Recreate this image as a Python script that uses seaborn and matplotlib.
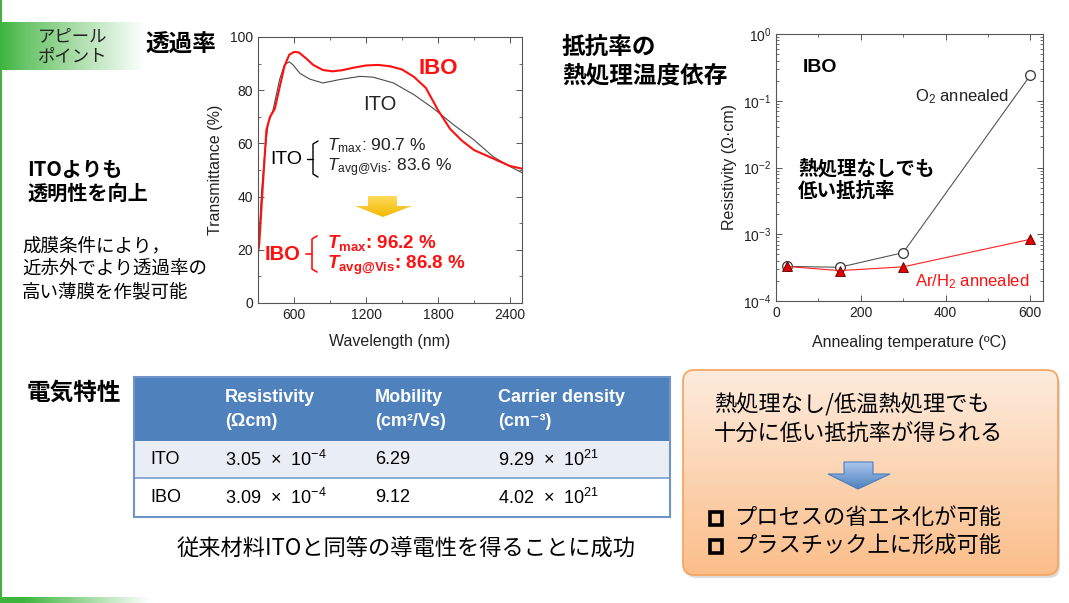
import numpy as np
import matplotlib
matplotlib.use("Agg")
import matplotlib.pyplot as plt
import seaborn as sns
from matplotlib.patches import FancyBboxPatch, Rectangle, Polygon
from matplotlib.ticker import MultipleLocator, LogLocator, NullFormatter
from matplotlib.colors import to_rgb

# ---------------------------------------------
# DATA
# ---------------------------------------------
# transmittance spectra: wavelength (nm) / transmittance (%)
wl_ibo = [300, 310, 340, 370, 400, 440, 480, 520, 560, 600, 640, 700, 760, 840,
          920, 1000, 1100, 1200, 1300, 1400, 1500, 1600, 1700, 1800, 1900, 2000,
          2100, 2200, 2300, 2400, 2500]
t_ibo = [19, 22, 44, 65, 70, 73, 81, 89, 93.3, 94.4, 94.2, 92, 89.5, 87.6,
         87.1, 87.5, 88.5, 89.3, 89.5, 89, 87.8, 85, 80.8, 72.5, 65.5, 61,
         57.5, 55.5, 53.5, 51.5, 50.5]
wl_ito = [300, 310, 330, 356, 384, 425, 480, 520, 560, 590, 650, 730, 840, 980,
          1150, 1260, 1430, 1600, 1760, 1930, 2100, 2260, 2400, 2500]
t_ito = [19, 25, 42, 56, 67.5, 72.5, 84, 89.5, 90.7, 89.6, 86.3, 84.2, 82.7, 84,
         85.2, 84.9, 82.7, 78.3, 73.2, 67, 61.3, 55, 51.3, 49]

# resistivity vs annealing temperature (IBO)
anneal_temp = [25, 150, 300, 600]
rho_o2 = [3.3e-4, 3.2e-4, 5.3e-4, 0.24]
rho_arh2 = [3.3e-4, 2.85e-4, 3.25e-4, 8.4e-4]

# electrical properties table
table_rows = ["ITO", "IBO"]
table_head1 = ["Resistivity", "Mobility", "Carrier density"]
table_head2 = ["(Ωcm)", "(cm²/Vs)", "(cm⁻³)"]
rho_mant = ["3.05", "3.09"]
rho_exp = [-4, -4]
mobility = ["6.29", "9.12"]
carrier_mant = ["9.29", "4.02"]
carrier_exp = [21, 21]

# ---------------------------------------------
# STYLE
# ---------------------------------------------
sns.set_theme(style="ticks")
plt.rcParams["font.family"] = ["Liberation Sans", "DejaVu Sans", "Noto Sans CJK JP"]
plt.rcParams["mathtext.fontset"] = "custom"
plt.rcParams["mathtext.rm"] = "Liberation Sans"
plt.rcParams["mathtext.it"] = "Liberation Sans:italic"
plt.rcParams["mathtext.bf"] = "Liberation Sans:bold"
plt.rcParams["mathtext.bfit"] = "Liberation Sans:italic:bold"
JP = ["Noto Sans CJK JP", "DejaVu Sans"]
INK = "#222222"
GREEN = "#3DB53D"

fig = plt.figure(figsize=(10.69, 6.03), dpi=100)
W, H = 1069, 603


def px_axes(x0, y0, x1, y1):
    return fig.add_axes([x0 / W, 1 - y1 / H, (x1 - x0) / W, (y1 - y0) / H])


def style_axes(ax):
    for s in ax.spines.values():
        s.set_color("#555555")
        s.set_linewidth(0.8)
    ax.tick_params(which="both", direction="in", top=True, right=True,
                   color="#555555", labelcolor=INK, labelsize=10)
    ax.tick_params(which="major", length=4, width=0.7)
    ax.tick_params(which="minor", length=2, width=0.6)


# (a) Transmittance
ax1 = px_axes(258, 37, 522, 303)
sns.lineplot(x=wl_ito, y=t_ito, ax=ax1, color="#4A4A4A", lw=0.8)
sns.lineplot(x=wl_ibo, y=t_ibo, ax=ax1, color="#FF1010", lw=1.5)
ax1.set_xlim(300, 2500)
ax1.set_ylim(0, 100)
ax1.set_xticks([600, 1200, 1800, 2400])
ax1.xaxis.set_minor_locator(MultipleLocator(300))
ax1.yaxis.set_major_locator(MultipleLocator(20))
ax1.yaxis.set_minor_locator(MultipleLocator(10))
ax1.set_xlabel("Wavelength (nm)", fontsize=11.5, color=INK, labelpad=9)
ax1.set_ylabel("Transmittance (%)", fontsize=11.5, color=INK, labelpad=5)
style_axes(ax1)

# (b) Resistivity
ax2 = px_axes(776, 34, 1043, 301)
sns.lineplot(x=anneal_temp, y=rho_o2, ax=ax2, color="#555555", lw=0.8,
             marker="o", markersize=7, markerfacecolor="white",
             markeredgecolor="#333333", markeredgewidth=0.9)
sns.lineplot(x=anneal_temp, y=rho_arh2, ax=ax2, color="#FF2020", lw=0.8,
             marker="^", markersize=7.5, markerfacecolor="#E00000",
             markeredgecolor="#600000", markeredgewidth=0.6)
ax2.set_yscale("log")
ax2.set_ylim(1e-4, 1)
ax2.set_xlim(0, 630)
ax2.set_xticks([0, 200, 400, 600])
ax2.xaxis.set_minor_locator(MultipleLocator(100))
ax2.yaxis.set_major_locator(LogLocator(base=10, numticks=10))
ax2.yaxis.set_minor_locator(LogLocator(base=10, subs=np.arange(2, 10), numticks=20))
ax2.yaxis.set_minor_formatter(NullFormatter())
ax2.set_xlabel("Annealing temperature (ºC)", fontsize=11.5, color=INK, labelpad=11)
ax2.set_ylabel("Resistivity (Ω·cm)", fontsize=11.5, color=INK)
style_axes(ax2)

# ---------------------------------------------
# OVERLAY (pixel coordinates)
# ---------------------------------------------
ov = fig.add_axes([0, 0, 1, 1], zorder=10)
ov.patch.set_alpha(0)
ov.axis("off")


def gradient(extent, stops, colors, horizontal=False, clip=None, z=1):
    t = np.linspace(0, 1, 256)
    cols = np.array([to_rgb(c) for c in colors])
    arr = np.stack([np.interp(t, stops, cols[:, k]) for k in range(3)], axis=-1)
    img = arr[None, :, :] if horizontal else arr[:, None, :]
    im = ov.imshow(img, extent=extent, aspect="auto", origin="upper",
                   interpolation="bilinear", zorder=z)
    if clip is not None:
        im.set_clip_path(clip)
    return im


# green frame accents
ov.add_patch(Rectangle((0, 0), 2.2, 598, color=GREEN, lw=0, zorder=2))
gradient((0, 150, 603, 597), [0, 0.15, 1], [GREEN, GREEN, "white"], horizontal=True)
gradient((0, 145, 70, 22), [0, 0.18, 1], [GREEN, "#6CC56A", "white"], horizontal=True)
ov.text(38, 36, "アピール", family=JP, fontsize=12.5, color=INK, va="center")
ov.text(38, 57, "ポイント", family=JP, fontsize=12.5, color=INK, va="center")

# section titles
ov.text(145, 45, "透過率", family=JP, fontsize=17, fontweight="bold", color="black", va="center")
ov.text(562, 47, "抵抗率の", family=JP, fontsize=17, fontweight="bold", color="black", va="center")
ov.text(562, 75, "熱処理温度依存", family=JP, fontsize=17, fontweight="bold", color="black", va="center")
ov.text(27, 393, "電気特性", family=JP, fontsize=17, fontweight="bold", color="black", va="center")

# left notes
ov.text(27, 169, "ITOよりも", family=JP, fontsize=14.5, fontweight="bold", color="black", va="center")
ov.text(27, 193, "透明性を向上", family=JP, fontsize=14.5, fontweight="bold", color="black", va="center")
for yy, s in zip([246, 269, 292], ["成膜条件により，", "近赤外でより透過率の", "高い薄膜を作製可能"]):
    ov.text(22, yy, s, family=JP, fontsize=13.3, color="black", va="center")

# transmittance annotations
ov.text(418, 68, "IBO", fontsize=16, fontweight="bold", color="#FF1010", va="center")
ov.text(363, 105, "ITO", fontsize=14.5, color=INK, va="center")


def bracket(x, y0, y1, color, lw):
    ym = (y0 + y1) / 2
    ov.plot([x + 5, x, x, x + 5], [y0, y0 + 3, y1 - 3, y1], color=color, lw=lw,
            solid_joinstyle="round")
    ov.plot([x - 6, x], [ym, ym], color=color, lw=lw)


ov.text(270, 159, "ITO", fontsize=14, color="black", va="center")
bracket(313, 141, 177, "black", 1.0)
ov.text(327, 146, r"$T_{\mathregular{max}}$: 90.7 %", fontsize=12.5, color=INK, va="center")
ov.text(327, 168, r"$T_{\mathregular{avg@Vis}}$: 83.6 %", fontsize=12.5, color=INK, va="center")

ov.text(265, 254, "IBO", fontsize=14.5, fontweight="bold", color="#FF1010", va="center")
bracket(312, 236, 272, "#FF1010", 1.2)
ov.text(327, 243, r"$\mathbfit{T}_{\mathbf{max}}$: 96.2 %", fontsize=13.5,
        fontweight="bold", color="#FF1010", va="center")
ov.text(327, 265, r"$\mathbfit{T}_{\mathbf{avg@Vis}}$: 86.8 %", fontsize=13.5,
        fontweight="bold", color="#FF1010", va="center")

# yellow arrow
yarrow = Polygon([(368, 196), (397, 196), (397, 206), (412, 206), (383, 217),
                  (355, 206), (368, 206)], closed=True, facecolor="none", edgecolor="none")
ov.add_patch(yarrow)
gradient((355, 412, 217, 196), [0, 1], ["#FFDB5C", "#F2B800"], clip=yarrow, z=3)

# resistivity annotations
ov.text(803, 68, "IBO", fontsize=14, fontweight="bold", color="black", va="center")
ov.text(915, 97, r"O$_2$ annealed", fontsize=12, color=INK, va="center")
ov.text(915, 282, r"Ar/H$_2$ annealed", fontsize=12, color="#FF1010", va="center")
ov.text(798, 169, "熱処理なしでも", family=JP, fontsize=14, fontweight="bold", color="black", va="center")
ov.text(798, 191, "低い抵抗率", family=JP, fontsize=14, fontweight="bold", color="black", va="center")

# ---------------------------------------------
# TABLE
# ---------------------------------------------
tx0, tx1 = 134, 670
ty = [377, 441, 478, 517]
ov.add_patch(Rectangle((tx0, ty[0]), tx1 - tx0, ty[1] - ty[0], color="#4F81BD", lw=0, zorder=2))
ov.add_patch(Rectangle((tx0, ty[1]), tx1 - tx0, ty[2] - ty[1], color="#E9EDF4", lw=0, zorder=2))
ov.add_patch(Rectangle((tx0, ty[2]), tx1 - tx0, ty[3] - ty[2], color="white", lw=0, zorder=2))
ov.plot([tx0, tx1], [ty[2], ty[2]], color="#7A9DCC", lw=1.2, zorder=3)
ov.add_patch(Rectangle((tx0, ty[0]), tx1 - tx0, ty[3] - ty[0], fill=False,
                       edgecolor="#6F95C8", lw=1.5, zorder=4))
col_x = [150, 225, 375, 498]
for cx, h1, h2 in zip(col_x[1:], table_head1, table_head2):
    ov.text(cx, 397, h1, fontsize=13, fontweight="bold", color="white", va="center", zorder=5)
    ov.text(cx, 422, h2, fontsize=13, fontweight="bold", color="white", va="center", zorder=5)
for i, name in enumerate(table_rows):
    yy = (ty[i + 1] + ty[i + 2]) / 2
    ov.text(col_x[0], yy, name, fontsize=13, color="black", va="center", zorder=5)
    ov.text(col_x[1], yy, rho_mant[i] + r"  ×  $10^{%d}$" % rho_exp[i], fontsize=13,
            color="black", va="center", zorder=5)
    ov.text(col_x[2], yy, mobility[i], fontsize=13, color="black", va="center", zorder=5)
    ov.text(col_x[3], yy, carrier_mant[i] + r"  ×  $10^{%d}$" % carrier_exp[i], fontsize=13,
            color="black", va="center", zorder=5)

ov.text(406, 548, "従来材料ITOと同等の導電性を得ることに成功", family=JP, fontsize=16,
        color="black", ha="center", va="center")

# ---------------------------------------------
# ORANGE SUMMARY BOX
# ---------------------------------------------
bx0, by0, bx1, by1 = 683, 370, 1058, 575
ov.add_patch(FancyBboxPatch((bx0 + 2, by0 + 3), bx1 - bx0, by1 - by0,
                            boxstyle="round,pad=0,rounding_size=11",
                            facecolor="#B0B0B0", edgecolor="none", alpha=0.45, zorder=1))
box = FancyBboxPatch((bx0, by0), bx1 - bx0, by1 - by0, boxstyle="round,pad=0,rounding_size=11",
                     facecolor="none", edgecolor="#F6A25A", lw=1.2, zorder=3)
ov.add_patch(box)
gradient((bx0, bx1, by1, by0), [0, 1], ["#FDEBDD", "#FBBE8A"], clip=box, z=2)

ov.text(714, 405, "熱処理なし/低温熱処理でも", family=JP, fontsize=16, color="black", va="center", zorder=5)
ov.text(714, 434, "十分に低い抵抗率が得られる", family=JP, fontsize=16, color="black", va="center", zorder=5)

barrow = Polygon([(844, 462), (873, 462), (873, 474), (890, 474), (858, 489),
                  (828, 474), (844, 474)], closed=True, facecolor="none",
                 edgecolor="#4A7EBB", lw=0.8, zorder=6)
ov.add_patch(barrow)
gradient((828, 890, 489, 462), [0, 1], ["#A9C6EE", "#4F81BD"], clip=barrow, z=5)

for yy, s in zip([518, 546], ["プロセスの省エネ化が可能", "プラスチック上に形成可能"]):
    ov.add_patch(Rectangle((710, yy - 6.5), 12, 13, fill=False, edgecolor="black", lw=2.6, zorder=5))
    ov.text(734, yy, s, family=JP, fontsize=16, color="black", va="center", zorder=5)

ov.set_xlim(0, W)
ov.set_ylim(H, 0)

plt.savefig("out.png", dpi=100)
